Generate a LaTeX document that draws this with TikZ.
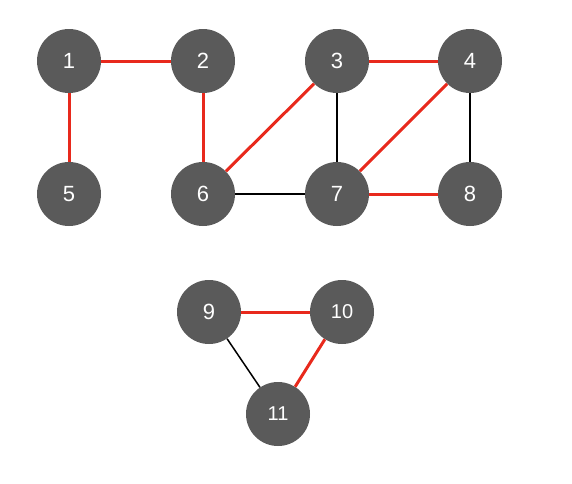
\documentclass[tikz,border=0pt]{standalone}
\usepackage{fontspec}
\setmainfont{Liberation Sans}
\definecolor{nodegray}{HTML}{5A5A5A}
\definecolor{edgered}{HTML}{E8291C}
\begin{document}
\begin{tikzpicture}[x=1pt,y=-1pt,
  vert/.style={circle,fill=nodegray,draw=none,minimum size=64pt,inner sep=0pt,text=white,font=\fontsize{22}{24}\selectfont},
  vsmall/.style={vert,font=\fontsize{20}{22}\selectfont},
  redge/.style={draw=edgered,line width=3pt},
  bedge/.style={draw=black,line width=1.5pt}]
\useasboundingbox (0,0) rectangle (572,483);
\node[vert] (n1) at (69,61) {1};
\node[vert] (n2) at (203,61) {2};
\node[vert] (n3) at (337,61) {3};
\node[vert] (n4) at (470,61) {4};
\node[vert] (n5) at (69,194) {5};
\node[vert] (n6) at (203,194) {6};
\node[vert] (n7) at (337,194) {7};
\node[vert] (n8) at (470,194) {8};
\node[vert] (n9) at (209,312) {9};
\node[vsmall] (n10) at (342,312) {10};
\node[vsmall] (n11) at (278,414) {11};
\path[redge] (n1) -- (n2);
\path[redge] (n1) -- (n5);
\path[redge] (n2) -- (n6);
\path[redge] (n3) -- (n6);
\path[redge] (n3) -- (n4);
\path[bedge] (n3) -- (n7);
\path[redge] (n4) -- (n7);
\path[bedge] (n4) -- (n8);
\path[bedge] (n6) -- (n7);
\path[redge] (n7) -- (n8);
\path[redge] (n9) -- (n10);
\path[bedge] (n9) -- (n11);
\path[redge] (n10) -- (n11);
\end{tikzpicture}
\end{document}
